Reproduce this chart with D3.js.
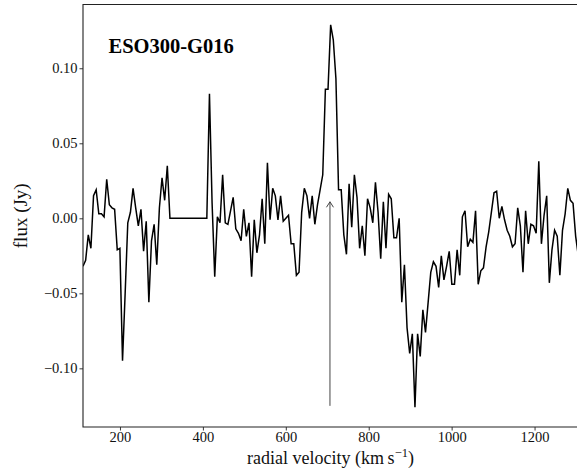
<!DOCTYPE html>
<html><head><meta charset="utf-8">
<script src="https://cdn.jsdelivr.net/npm/d3@7"></script>
<style>body{margin:0;background:#fff} svg{display:block}</style>
</head><body>
<svg id="c" width="577" height="475"></svg>
<script>
// ---- data ----
const title = "ESO300-G016";
const chanStart = 110.8;   // km/s, first channel
const chanWidth = 6.355;   // km/s per channel
const flux = [
 -0.032,-0.028,-0.011,-0.020, 0.015, 0.019, 0.003, 0.003, 0.001, 0.026,
  0.009, 0.007, 0.006,-0.021,-0.020,-0.095,-0.050,-0.003, 0.004, 0.020,
  0.007,-0.005, 0.006,-0.022,-0.002,-0.056,-0.015,-0.004,-0.031, 0.007,
  0.027, 0.012, 0.035, 0.000, 0.000, 0.000, 0.000, 0.000, 0.000, 0.000,
  0.000, 0.000, 0.000, 0.000, 0.000, 0.000, 0.000, 0.000, 0.083, 0.010,
 -0.039, 0.001,-0.003, 0.029,-0.003,-0.004, 0.005, 0.014,-0.007,-0.010,
 -0.015, 0.006,-0.012,-0.003,-0.039,-0.001,-0.023,-0.011, 0.013,-0.017,
  0.037,-0.001, 0.020, 0.015,-0.001, 0.015,-0.002, 0.000, 0.002,-0.017,
 -0.017,-0.038,-0.036, 0.004, 0.020, 0.015, 0.000, 0.015,-0.004, 0.009,
  0.019, 0.029, 0.086, 0.086, 0.129, 0.119, 0.093, 0.019, 0.019,-0.011,
 -0.024, 0.023,-0.006, 0.029, 0.014,-0.020,-0.005,-0.025, 0.013, 0.007,
 -0.003, 0.024, 0.004,-0.027, 0.011,-0.020, 0.016, 0.013,-0.013,-0.013,
  0.000,-0.056,-0.031,-0.073,-0.090,-0.077,-0.126,-0.077,-0.092,-0.061,
 -0.076,-0.056,-0.036,-0.029,-0.032,-0.046,-0.025,-0.041,-0.032,-0.022,
 -0.044,-0.044,-0.021,-0.038, 0.001, 0.005,-0.019,-0.014,-0.016, 0.005,
 -0.044,-0.035,-0.033,-0.019,-0.009, 0.004, 0.017, 0.018, 0.000, 0.008,
 -0.001,-0.008,-0.012,-0.019,-0.017, 0.007,-0.005,-0.036, 0.005,-0.017,
 -0.004,-0.005,-0.010, 0.038,-0.017, 0.002, 0.015,-0.043,-0.021,-0.008,
 -0.012,-0.038,-0.008, 0.003, 0.020, 0.012, 0.010,-0.012,-0.025
];
const velocity = flux.map((_, i) => chanStart + i * chanWidth);
const xTicks = [200, 400, 600, 800, 1000, 1200];
const yTicks = [-0.10, -0.05, 0.00, 0.05, 0.10];
const xDomain = [110.8, 1304.8];
const yDomain = [-0.1391, 0.1425];
const arrowVelocity = 706.5;
const arrowFlux = [-0.125, 0.011];

// ---- layout ----
const svg = d3.select("#c");
const L = 83, R = 578, T = 4.5, B = 427;
const x = d3.scaleLinear().domain(xDomain).range([L, R]);
const y = d3.scaleLinear().domain(yDomain).range([B, T]);
const serif = "'Liberation Serif','Times New Roman',serif";
const axisCol = "#222";

svg.append("clipPath").attr("id", "clip")
  .append("rect").attr("x", L).attr("y", T).attr("width", R - L).attr("height", B - T);

// spectrum line
svg.append("path")
  .datum(velocity.map((v, i) => [v, flux[i]]))
  .attr("clip-path", "url(#clip)")
  .attr("fill", "none").attr("stroke", "#000").attr("stroke-width", 1.5)
  .attr("stroke-linejoin", "miter")
  .attr("d", d3.line().x(d => x(d[0])).y(d => y(d[1])));

// arrow
const ax = x(arrowVelocity), ay0 = y(arrowFlux[0]), ay1 = y(arrowFlux[1]);
const ag = svg.append("g").attr("stroke", "#444").attr("stroke-width", 1).attr("fill", "none");
ag.append("line").attr("x1", ax).attr("x2", ax).attr("y1", ay0).attr("y2", ay1);
ag.append("path").attr("d", `M${ax - 3.5},${ay1 + 5.5}L${ax},${ay1}L${ax + 3.5},${ay1 + 5.5}`);

// axes
const xAxis = d3.axisBottom(x).tickValues(xTicks).tickSize(3.5).tickPadding(1)
  .tickFormat(d3.format("d"));
const yAxis = d3.axisLeft(y).tickValues(yTicks).tickSize(3.5).tickPadding(2)
  .tickFormat(d => d3.format(".2f")(d).replace("-", "\u2212"));
const gx = svg.append("g").attr("transform", `translate(0,${B})`).call(xAxis);
const gy = svg.append("g").attr("transform", `translate(${L},0)`).call(yAxis);
[gx, gy].forEach(g => {
  g.select(".domain").remove();
  g.selectAll(".tick line").attr("stroke", axisCol).attr("stroke-width", 0.9);
  g.selectAll(".tick text").attr("fill", "#111").style("font-family", serif).style("font-size", "14.5px");
});
// spines (left, top, bottom)
svg.append("path")
  .attr("d", `M${R},${T}H${L}V${B}H${R}`)
  .attr("fill", "none").attr("stroke", axisCol).attr("stroke-width", 1.1);

// title
svg.append("text").attr("x", 108.5).attr("y", 52.5)
  .style("font-family", serif).style("font-weight", "bold").style("font-size", "20.5px")
  .attr("fill", "#000").text(title);

// axis labels
const xl = svg.append("text").attr("x", (L + R) / 2).attr("y", 464).attr("text-anchor", "middle")
  .style("font-family", serif).style("font-size", "18px").attr("fill", "#111");
xl.append("tspan").text("radial velocity (km\u2009s");
xl.append("tspan").attr("dy", -7).style("font-size", "12.5px").text("\u22121");
xl.append("tspan").attr("dy", 7).text(")");

svg.append("text")
  .attr("transform", `translate(27,${(T + B) / 2}) rotate(-90)`)
  .attr("text-anchor", "middle")
  .style("font-family", serif).style("font-size", "19px").attr("fill", "#111")
  .text("flux (Jy)");
</script>
</body></html>
